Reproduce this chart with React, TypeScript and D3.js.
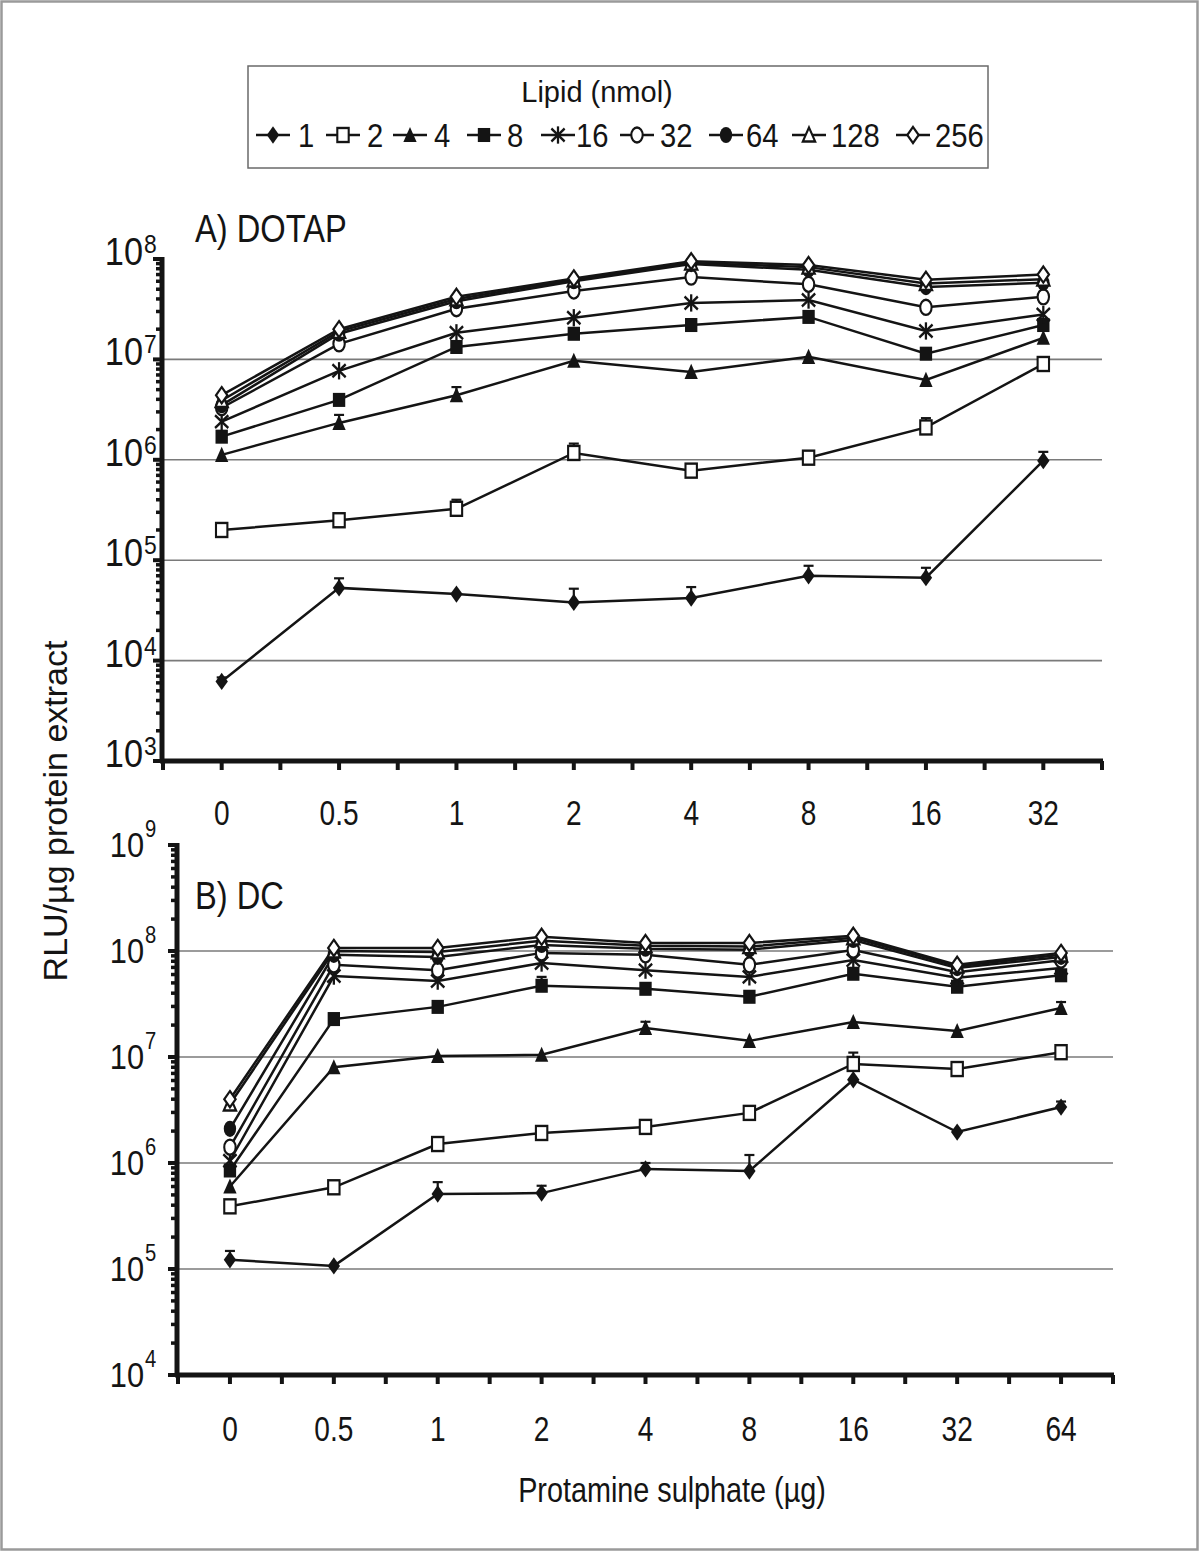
import React from "react";
import * as d3 from "d3";

// ---- data ----
const lipids = ["1", "2", "4", "8", "16", "32", "64", "128", "256"];
const markerTypes = ["diamondFilled", "squareOpen", "triangleFilled", "squareFilled", "asterisk", "circleOpen", "circleFilled", "triangleOpen", "diamondOpen"];

const protamineA = ["0", "0.5", "1", "2", "4", "8", "16", "32"];
const protamineB = ["0", "0.5", "1", "2", "4", "8", "16", "32", "64"];

// A) DOTAP, RLU/ug protein
const dotap1 = [6.2e3, 5.3e4, 4.6e4, 3.8e4, 4.2e4, 7.0e4, 6.7e4, 9.8e5];
const dotap2 = [2.0e5, 2.5e5, 3.25e5, 1.17e6, 7.8e5, 1.05e6, 2.1e6, 9.0e6];
const dotap4 = [1.12e6, 2.33e6, 4.4e6, 9.7e6, 7.5e6, 1.06e7, 6.25e6, 1.64e7];
const dotap8 = [1.7e6, 3.95e6, 1.33e7, 1.8e7, 2.2e7, 2.65e7, 1.14e7, 2.2e7];
const dotap16 = [2.4e6, 7.7e6, 1.84e7, 2.6e7, 3.65e7, 3.9e7, 1.92e7, 2.8e7];
const dotap32 = [3.3e6, 1.43e7, 3.2e7, 4.8e7, 6.6e7, 5.6e7, 3.3e7, 4.2e7];
const dotap64 = [3.5e6, 1.8e7, 3.8e7, 6.0e7, 8.9e7, 7.8e7, 5.25e7, 5.8e7];
const dotap128 = [3.9e6, 1.9e7, 4.0e7, 6.2e7, 9.1e7, 8.3e7, 5.7e7, 6.3e7];
const dotap256 = [4.4e6, 2.0e7, 4.2e7, 6.4e7, 9.5e7, 8.7e7, 6.2e7, 7.0e7];

// upper end of the error bars (null = none visible)
const dotapErr1 = [6.8e3, 6.6e4, null, 5.2e4, 5.4e4, 8.8e4, 8.4e4, 1.2e6];
const dotapErr2 = [2.3e5, null, 4.0e5, 1.45e6, null, null, 2.6e6, null];
const dotapErr4 = [null, 2.8e6, 5.3e6, null, null, null, null, null];

// B) DC
const dc1 = [1.22e5, 1.07e5, 5.1e5, 5.2e5, 8.8e5, 8.4e5, 6.1e6, 1.96e6, 3.37e6];
const dc2 = [3.9e5, 5.9e5, 1.51e6, 1.92e6, 2.19e6, 2.97e6, 8.6e6, 7.7e6, 1.11e7];
const dc4 = [6.0e5, 8.0e6, 1.02e7, 1.05e7, 1.88e7, 1.42e7, 2.14e7, 1.76e7, 2.9e7];
const dc8 = [8.5e5, 2.28e7, 2.97e7, 4.7e7, 4.4e7, 3.7e7, 6.1e7, 4.6e7, 5.9e7];
const dc16 = [1.05e6, 5.8e7, 5.2e7, 7.7e7, 6.6e7, 5.7e7, 8.2e7, 5.6e7, 6.9e7];
const dc32 = [1.41e6, 7.4e7, 6.6e7, 9.6e7, 9.2e7, 7.4e7, 1.02e8, 6.3e7, 8.2e7];
const dc64 = [2.1e6, 9.2e7, 8.8e7, 1.14e8, 1.05e8, 1.03e8, 1.27e8, 6.9e7, 8.8e7];
const dc128 = [3.6e6, 1.0e8, 9.8e7, 1.25e8, 1.12e8, 1.1e8, 1.33e8, 7.2e7, 9.2e7];
const dc256 = [4.0e6, 1.07e8, 1.07e8, 1.36e8, 1.19e8, 1.19e8, 1.39e8, 7.4e7, 9.6e7];

const dcErr1 = [1.48e5, null, 6.6e5, 6.1e5, 1.0e6, 1.19e6, null, null, 3.8e6];
const dcErr2 = [null, null, 1.65e6, 2.2e6, null, null, 1.1e7, 8.6e6, 1.28e7];
const dcErr4 = [null, null, null, null, 2.15e7, null, null, null, 3.3e7];
const dcErr8 = [null, null, null, 5.7e7, null, null, null, null, null];

const panelAValues = [dotap1, dotap2, dotap4, dotap8, dotap16, dotap32, dotap64, dotap128, dotap256];
const panelAErrors = [dotapErr1, dotapErr2, dotapErr4];
const panelBValues = [dc1, dc2, dc4, dc8, dc16, dc32, dc64, dc128, dc256];
const panelBErrors = [dcErr1, dcErr2, dcErr4, dcErr8];

const FONT = "'Liberation Sans', Arial, Helvetica, sans-serif";
const INK = "#141414";

function Marker({ type, x, y }: { type: string; x: number; y: number }) {
  const sw = 2.2;
  let shape: React.ReactNode = null;
  switch (type) {
    case "diamondFilled":
      shape = <path d="M0,-8L6.5,0L0,8L-6.5,0Z" fill={INK} />;
      break;
    case "diamondOpen":
      shape = <path d="M0,-7.5L6,0L0,7.5L-6,0Z" fill="#fff" stroke={INK} strokeWidth={sw} />;
      break;
    case "squareOpen":
      shape = <rect x={-6} y={-6.5} width={12} height={13} fill="#fff" stroke={INK} strokeWidth={sw} />;
      break;
    case "squareFilled":
      shape = <rect x={-6.5} y={-6.5} width={13} height={13} fill={INK} />;
      break;
    case "triangleFilled":
      shape = <path d="M0,-7.5L7,6.5L-7,6.5Z" fill={INK} />;
      break;
    case "triangleOpen":
      shape = <path d="M0,-7L6.5,6L-6.5,6Z" fill="#fff" stroke={INK} strokeWidth={sw} />;
      break;
    case "circleOpen":
      shape = <ellipse rx={6} ry={7} fill="#fff" stroke={INK} strokeWidth={sw} />;
      break;
    case "circleFilled":
      shape = <ellipse rx={6.5} ry={7.5} fill={INK} />;
      break;
    case "asterisk":
      shape = (
        <g stroke={INK} strokeWidth={2.4}>
          <line x1={0} y1={-8} x2={0} y2={8} />
          <line x1={-7} y1={-6} x2={7} y2={6} />
          <line x1={-7} y1={6} x2={7} y2={-6} />
        </g>
      );
      break;
  }
  return <g transform={`translate(${x},${y}) scale(0.95,1.08)`}>{shape}</g>;
}

function CText(props: { x: number; y: number; size: number; sx?: number; anchor?: string; rotate?: number; children: React.ReactNode }) {
  const { x, y, size, sx = 1, anchor = "middle", rotate, children } = props;
  const t = `translate(${x},${y}) scale(${sx},1)` + (rotate ? ` rotate(${rotate})` : "");
  return (
    <text transform={t} fontSize={size} textAnchor={anchor} fontFamily={FONT} fill={INK}>
      {children}
    </text>
  );
}

type PanelProps = {
  labels: string[];
  values: number[][];
  errors: (number | null)[][];
  xRange: [number, number];
  yDomain: [number, number];
  yRange: [number, number];
  title: string;
  titleX: number;
  titleY: number;
  yLabelSize: number;
  yLabelDx: number;
  yLabelDy: number;
  supSize: number;
  supDy: number;
  xLabelY: number;
};

function Panel(p: PanelProps) {
  const x = d3.scaleBand<string>().domain(p.labels).range(p.xRange).paddingInner(0).paddingOuter(0);
  const y = d3.scaleLog().domain(p.yDomain).range(p.yRange);
  const x0 = p.xRange[0];
  const x1 = p.xRange[1];
  const yBottom = p.yRange[0];
  const yTop = p.yRange[1];
  const cx = (l: string) => (x(l) as number) + x.bandwidth() / 2;

  const allTicks = y.ticks();
  const decades = allTicks.filter((t) => Math.abs(Math.log10(t) - Math.round(Math.log10(t))) < 1e-9);
  const minors = allTicks.filter((t) => !decades.includes(t));

  const halfTicks: number[] = [];
  for (let i = 0; i <= p.labels.length * 2; i++) halfTicks.push(x0 + (i * x.bandwidth()) / 2);

  const line = d3
    .line<number>()
    .x((_, i) => cx(p.labels[i]))
    .y((v) => y(v));

  return (
    <g>
      {/* gridlines */}
      {decades
        .filter((d) => y(d) < yBottom - 2 && y(d) > yTop + 2)
        .map((d) => (
          <line key={"g" + d} x1={x0} x2={x1} y1={y(d)} y2={y(d)} stroke="#7a7a7a" strokeWidth={1.6} />
        ))}

      {/* series lines */}
      {p.values.map((vals, si) => (
        <path key={"l" + si} d={line(vals) || ""} fill="none" stroke={INK} strokeWidth={2.5} />
      ))}

      {/* error bars */}
      {p.errors.map((errs, si) =>
        errs.map((e, i) =>
          e == null ? null : (
            <g key={`e${si}-${i}`} stroke={INK} strokeWidth={2.2}>
              <line x1={cx(p.labels[i])} x2={cx(p.labels[i])} y1={y(p.values[si][i])} y2={y(e)} />
              <line x1={cx(p.labels[i]) - 5} x2={cx(p.labels[i]) + 5} y1={y(e)} y2={y(e)} />
            </g>
          )
        )
      )}

      {/* markers */}
      {p.values.map((vals, si) =>
        vals.map((v, i) => <Marker key={`m${si}-${i}`} type={markerTypes[si]} x={cx(p.labels[i])} y={y(v)} />)
      )}

      {/* y axis */}
      <line x1={x0 - 1} x2={x0 - 1} y1={yTop - 2} y2={yBottom + 2} stroke={INK} strokeWidth={5} />
      {minors.map((t) => (
        <line key={"mt" + t} x1={x0 - 7} x2={x0} y1={y(t)} y2={y(t)} stroke={INK} strokeWidth={3.5} />
      ))}
      {decades.map((t) => (
        <line key={"Mt" + t} x1={x0 - 10} x2={x0} y1={y(t)} y2={y(t)} stroke={INK} strokeWidth={4} />
      ))}
      {decades.map((t) => {
        const exp = Math.round(Math.log10(t));
        return (
          <g key={"yl" + t}>
            <CText x={x0 - p.yLabelDx} y={y(t) + p.yLabelDy} size={p.yLabelSize} sx={0.88} anchor="end">
              10
            </CText>
            <CText x={x0 - p.yLabelDx + 1} y={y(t) + p.supDy} size={p.supSize} sx={0.88} anchor="start">
              {String(exp)}
            </CText>
          </g>
        );
      })}

      {/* x axis */}
      <line x1={x0 - 3} x2={x1 + 1} y1={yBottom} y2={yBottom} stroke={INK} strokeWidth={5} />
      {halfTicks.map((t, i) => (
        <line key={"xt" + i} x1={t} x2={t} y1={yBottom} y2={yBottom + 9} stroke={INK} strokeWidth={4} />
      ))}
      {p.labels.map((l) => (
        <CText key={"xl" + l} x={cx(l)} y={p.xLabelY} size={36} sx={0.78}>
          {l}
        </CText>
      ))}

      <CText x={p.titleX} y={p.titleY} size={38} sx={0.86} anchor="start">
        {p.title}
      </CText>
    </g>
  );
}

const legendMarkerX = [273, 343, 410, 484, 558, 637, 726, 809, 913];
const legendLabelX = [298, 367, 434, 507, 576, 660, 746, 831, 935];
const legendRowY = 135;

export default function App() {
  return (
    <svg width={1200} height={1552} style={{ position: "absolute", left: 0, top: 0, background: "#fff" }}>
      <rect x={0} y={0} width={1200} height={1552} fill="#fff" />
      <rect x={1.5} y={1.5} width={1196} height={1548} fill="none" stroke="#9a9a9a" strokeWidth={2.5} />

      {/* legend */}
      <rect x={248} y={66} width={740} height={102} fill="#fff" stroke="#6a6a6a" strokeWidth={1.5} />
      <CText x={597} y={102} size={29}>
        Lipid (nmol)
      </CText>
      {lipids.map((l, i) => (
        <g key={"lg" + l}>
          <line x1={legendMarkerX[i] - 17} x2={legendMarkerX[i] + 17} y1={legendRowY} y2={legendRowY} stroke={INK} strokeWidth={2.4} />
          <Marker type={markerTypes[i]} x={legendMarkerX[i]} y={legendRowY} />
          <CText x={legendLabelX[i]} y={legendRowY + 12} size={34} sx={0.86} anchor="start">
            {l}
          </CText>
        </g>
      ))}

      <Panel
        labels={protamineA}
        values={panelAValues}
        errors={panelAErrors}
        xRange={[163, 1102]}
        yDomain={[1e3, 1e8]}
        yRange={[761, 259]}
        title="A) DOTAP"
        titleX={195}
        titleY={242}
        yLabelSize={39}
        yLabelDx={20}
        yLabelDy={6}
        supSize={26}
        supDy={-6}
        xLabelY={825}
      />
      <Panel
        labels={protamineB}
        values={panelBValues}
        errors={panelBErrors}
        xRange={[178, 1113]}
        yDomain={[1e4, 1e9]}
        yRange={[1375, 845]}
        title="B) DC"
        titleX={195}
        titleY={909}
        yLabelSize={35}
        yLabelDx={34}
        yLabelDy={12}
        supSize={23}
        supDy={-8}
        xLabelY={1441}
      />

      <CText x={672} y={1502} size={36} sx={0.8}>
        Protamine sulphate (µg)
      </CText>
      <CText x={67} y={811} size={34} rotate={-90}>
        RLU/µg protein extract
      </CText>
    </svg>
  );
}
